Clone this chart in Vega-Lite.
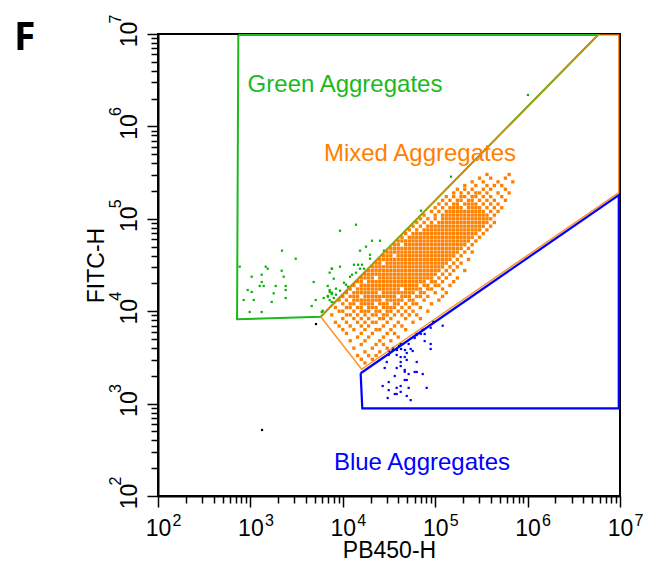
{
"$schema":"https://vega.github.io/schema/vega-lite/v6.json",
"width":462,"height":462,
"autosize":{"type":"none"},
"padding":{"left":158,"top":34,"right":27,"bottom":74},
"background":"white",
"title":{"text":"F","anchor":"start","frame":"group","font":"Open Sans","fontSize":39,"fontWeight":"bold","color":"black","dx":-144,"dy":75,"offset":0,"baseline":"alphabetic"},
"config":{"view":{"stroke":"black","strokeWidth":2},"font":"Liberation Sans",
"axis":{"grid":false,"domainColor":"black","domainWidth":2,"tickColor":"black","tickWidth":1.5,"labelFont":"Liberation Sans","labelFontSize":23,"labelColor":"black","labelFlush":false,"labelOverlap":false,"labelBound":false,"titleFont":"Liberation Sans","titleFontSize":23,"titleFontWeight":"normal","titleColor":"black"}},
"datasets":{
"orange":[
{"x":17380,"y":2754},
{"x":15850,"y":3020},{"x":20890,"y":3020},
{"x":14450,"y":3311},{"x":19050,"y":3311},{"x":22910,"y":3311},
{"x":17380,"y":3631},{"x":25120,"y":3631},
{"x":13180,"y":3981},{"x":20890,"y":3981},{"x":30200,"y":3981},
{"x":15850,"y":4365},{"x":22910,"y":4365},{"x":27540,"y":4365},
{"x":12020,"y":4786},{"x":17380,"y":4786},{"x":25120,"y":4786},{"x":33110,"y":4786},
{"x":14450,"y":5248},{"x":19050,"y":5248},{"x":27540,"y":5248},{"x":39810,"y":5248},
{"x":10960,"y":5754},{"x":15850,"y":5754},{"x":20890,"y":5754},{"x":30200,"y":5754},{"x":36310,"y":5754},
{"x":10000,"y":6310},{"x":13180,"y":6310},{"x":17380,"y":6310},{"x":22910,"y":6310},{"x":25120,"y":6310},{"x":33110,"y":6310},{"x":47860,"y":6310},
{"x":9120,"y":6918},{"x":12020,"y":6918},{"x":15850,"y":6918},{"x":19050,"y":6918},{"x":27540,"y":6918},{"x":36310,"y":6918},{"x":43650,"y":6918},
{"x":8318,"y":7586},{"x":10960,"y":7586},{"x":14450,"y":7586},{"x":17380,"y":7586},{"x":20890,"y":7586},{"x":22910,"y":7586},{"x":30200,"y":7586},{"x":39810,"y":7586},{"x":57540,"y":7586},
{"x":10000,"y":8318},{"x":13180,"y":8318},{"x":15850,"y":8318},{"x":19050,"y":8318},{"x":25120,"y":8318},{"x":27540,"y":8318},{"x":33110,"y":8318},{"x":47860,"y":8318},{"x":69180,"y":8318},
{"x":7586,"y":9120},{"x":10960,"y":9120},{"x":12020,"y":9120},{"x":14450,"y":9120},{"x":17380,"y":9120},{"x":20890,"y":9120},{"x":22910,"y":9120},{"x":27540,"y":9120},{"x":30200,"y":9120},{"x":36310,"y":9120},{"x":43650,"y":9120},{"x":52480,"y":9120},{"x":63100,"y":9120},
{"x":9120,"y":10000},{"x":10000,"y":10000},{"x":13180,"y":10000},{"x":15850,"y":10000},{"x":17380,"y":10000},{"x":19050,"y":10000},{"x":22910,"y":10000},{"x":25120,"y":10000},{"x":30200,"y":10000},{"x":33110,"y":10000},{"x":39810,"y":10000},{"x":47860,"y":10000},{"x":57540,"y":10000},{"x":83180,"y":10000},
{"x":8318,"y":10960},{"x":10960,"y":10960},{"x":12020,"y":10960},{"x":14450,"y":10960},{"x":15850,"y":10960},{"x":19050,"y":10960},{"x":20890,"y":10960},{"x":22910,"y":10960},{"x":27540,"y":10960},{"x":30200,"y":10960},{"x":33110,"y":10960},{"x":36310,"y":10960},{"x":43650,"y":10960},{"x":52480,"y":10960},{"x":69180,"y":10960},
{"x":10000,"y":12020},{"x":12020,"y":12020},{"x":13180,"y":12020},{"x":15850,"y":12020},{"x":17380,"y":12020},{"x":19050,"y":12020},{"x":20890,"y":12020},{"x":25120,"y":12020},{"x":27540,"y":12020},{"x":30200,"y":12020},{"x":36310,"y":12020},{"x":39810,"y":12020},{"x":47860,"y":12020},{"x":57540,"y":12020},{"x":63100,"y":12020},{"x":91200,"y":12020},
{"x":9120,"y":13180},{"x":10960,"y":13180},{"x":13180,"y":13180},{"x":14450,"y":13180},{"x":15850,"y":13180},{"x":17380,"y":13180},{"x":19050,"y":13180},{"x":20890,"y":13180},{"x":22910,"y":13180},{"x":25120,"y":13180},{"x":30200,"y":13180},{"x":33110,"y":13180},{"x":36310,"y":13180},{"x":39810,"y":13180},{"x":43650,"y":13180},{"x":52480,"y":13180},{"x":57540,"y":13180},{"x":75860,"y":13180},{"x":109600,"y":13180},
{"x":10000,"y":14450},{"x":12020,"y":14450},{"x":13180,"y":14450},{"x":14450,"y":14450},{"x":17380,"y":14450},{"x":19050,"y":14450},{"x":20890,"y":14450},{"x":22910,"y":14450},{"x":25120,"y":14450},{"x":27540,"y":14450},{"x":30200,"y":14450},{"x":33110,"y":14450},{"x":36310,"y":14450},{"x":43650,"y":14450},{"x":47860,"y":14450},{"x":52480,"y":14450},{"x":63100,"y":14450},{"x":69180,"y":14450},{"x":83180,"y":14450},{"x":120200,"y":14450},
{"x":10960,"y":15850},{"x":13180,"y":15850},{"x":14450,"y":15850},{"x":15850,"y":15850},{"x":17380,"y":15850},{"x":19050,"y":15850},{"x":20890,"y":15850},{"x":22910,"y":15850},{"x":27540,"y":15850},{"x":30200,"y":15850},{"x":33110,"y":15850},{"x":36310,"y":15850},{"x":39810,"y":15850},{"x":43650,"y":15850},{"x":47860,"y":15850},{"x":52480,"y":15850},{"x":57540,"y":15850},{"x":69180,"y":15850},{"x":75860,"y":15850},{"x":100000,"y":15850},{"x":131800,"y":15850},
{"x":12020,"y":17380},{"x":14450,"y":17380},{"x":15850,"y":17380},{"x":17380,"y":17380},{"x":19050,"y":17380},{"x":20890,"y":17380},{"x":22910,"y":17380},{"x":25120,"y":17380},{"x":27540,"y":17380},{"x":30200,"y":17380},{"x":33110,"y":17380},{"x":36310,"y":17380},{"x":39810,"y":17380},{"x":47860,"y":17380},{"x":52480,"y":17380},{"x":57540,"y":17380},{"x":63100,"y":17380},{"x":69180,"y":17380},{"x":83180,"y":17380},{"x":91200,"y":17380},{"x":120200,"y":17380},
{"x":13180,"y":19050},{"x":15850,"y":19050},{"x":17380,"y":19050},{"x":19050,"y":19050},{"x":20890,"y":19050},{"x":22910,"y":19050},{"x":25120,"y":19050},{"x":27540,"y":19050},{"x":30200,"y":19050},{"x":33110,"y":19050},{"x":36310,"y":19050},{"x":39810,"y":19050},{"x":43650,"y":19050},{"x":47860,"y":19050},{"x":52480,"y":19050},{"x":57540,"y":19050},{"x":63100,"y":19050},{"x":75860,"y":19050},{"x":83180,"y":19050},{"x":100000,"y":19050},{"x":109600,"y":19050},{"x":144500,"y":19050},
{"x":14450,"y":20890},{"x":15850,"y":20890},{"x":19050,"y":20890},{"x":20890,"y":20890},{"x":22910,"y":20890},{"x":25120,"y":20890},{"x":27540,"y":20890},{"x":30200,"y":20890},{"x":33110,"y":20890},{"x":36310,"y":20890},{"x":39810,"y":20890},{"x":43650,"y":20890},{"x":47860,"y":20890},{"x":52480,"y":20890},{"x":57540,"y":20890},{"x":63100,"y":20890},{"x":69180,"y":20890},{"x":75860,"y":20890},{"x":91200,"y":20890},{"x":100000,"y":20890},{"x":120200,"y":20890},{"x":158500,"y":20890},
{"x":15850,"y":22910},{"x":17380,"y":22910},{"x":19050,"y":22910},{"x":20890,"y":22910},{"x":25120,"y":22910},{"x":27540,"y":22910},{"x":30200,"y":22910},{"x":33110,"y":22910},{"x":36310,"y":22910},{"x":39810,"y":22910},{"x":43650,"y":22910},{"x":47860,"y":22910},{"x":52480,"y":22910},{"x":57540,"y":22910},{"x":63100,"y":22910},{"x":69180,"y":22910},{"x":75860,"y":22910},{"x":83180,"y":22910},{"x":91200,"y":22910},{"x":109600,"y":22910},{"x":131800,"y":22910},{"x":173800,"y":22910},
{"x":17380,"y":25120},{"x":19050,"y":25120},{"x":20890,"y":25120},{"x":22910,"y":25120},{"x":25120,"y":25120},{"x":27540,"y":25120},{"x":30200,"y":25120},{"x":33110,"y":25120},{"x":36310,"y":25120},{"x":39810,"y":25120},{"x":43650,"y":25120},{"x":47860,"y":25120},{"x":52480,"y":25120},{"x":57540,"y":25120},{"x":63100,"y":25120},{"x":69180,"y":25120},{"x":75860,"y":25120},{"x":83180,"y":25120},{"x":91200,"y":25120},{"x":100000,"y":25120},{"x":120200,"y":25120},{"x":144500,"y":25120},
{"x":19050,"y":27540},{"x":20890,"y":27540},{"x":22910,"y":27540},{"x":25120,"y":27540},{"x":27540,"y":27540},{"x":30200,"y":27540},{"x":33110,"y":27540},{"x":36310,"y":27540},{"x":39810,"y":27540},{"x":43650,"y":27540},{"x":47860,"y":27540},{"x":52480,"y":27540},{"x":57540,"y":27540},{"x":63100,"y":27540},{"x":69180,"y":27540},{"x":75860,"y":27540},{"x":83180,"y":27540},{"x":91200,"y":27540},{"x":100000,"y":27540},{"x":109600,"y":27540},{"x":131800,"y":27540},{"x":158500,"y":27540},{"x":208900,"y":27540},
{"x":20890,"y":30200},{"x":22910,"y":30200},{"x":25120,"y":30200},{"x":27540,"y":30200},{"x":30200,"y":30200},{"x":33110,"y":30200},{"x":36310,"y":30200},{"x":39810,"y":30200},{"x":43650,"y":30200},{"x":47860,"y":30200},{"x":52480,"y":30200},{"x":57540,"y":30200},{"x":63100,"y":30200},{"x":69180,"y":30200},{"x":75860,"y":30200},{"x":83180,"y":30200},{"x":91200,"y":30200},{"x":100000,"y":30200},{"x":109600,"y":30200},{"x":120200,"y":30200},{"x":144500,"y":30200},{"x":173800,"y":30200},
{"x":22910,"y":33110},{"x":25120,"y":33110},{"x":30200,"y":33110},{"x":33110,"y":33110},{"x":36310,"y":33110},{"x":39810,"y":33110},{"x":43650,"y":33110},{"x":47860,"y":33110},{"x":52480,"y":33110},{"x":57540,"y":33110},{"x":63100,"y":33110},{"x":69180,"y":33110},{"x":75860,"y":33110},{"x":83180,"y":33110},{"x":91200,"y":33110},{"x":100000,"y":33110},{"x":109600,"y":33110},{"x":120200,"y":33110},{"x":131800,"y":33110},{"x":158500,"y":33110},{"x":190500,"y":33110},
{"x":25120,"y":36310},{"x":27540,"y":36310},{"x":30200,"y":36310},{"x":33110,"y":36310},{"x":36310,"y":36310},{"x":39810,"y":36310},{"x":43650,"y":36310},{"x":47860,"y":36310},{"x":52480,"y":36310},{"x":57540,"y":36310},{"x":63100,"y":36310},{"x":69180,"y":36310},{"x":75860,"y":36310},{"x":83180,"y":36310},{"x":91200,"y":36310},{"x":100000,"y":36310},{"x":109600,"y":36310},{"x":120200,"y":36310},{"x":131800,"y":36310},{"x":144500,"y":36310},{"x":173800,"y":36310},{"x":229100,"y":36310},
{"x":27540,"y":39810},{"x":30200,"y":39810},{"x":33110,"y":39810},{"x":39810,"y":39810},{"x":43650,"y":39810},{"x":47860,"y":39810},{"x":52480,"y":39810},{"x":57540,"y":39810},{"x":63100,"y":39810},{"x":69180,"y":39810},{"x":75860,"y":39810},{"x":83180,"y":39810},{"x":91200,"y":39810},{"x":100000,"y":39810},{"x":109600,"y":39810},{"x":120200,"y":39810},{"x":131800,"y":39810},{"x":144500,"y":39810},{"x":158500,"y":39810},{"x":190500,"y":39810},
{"x":30200,"y":43650},{"x":33110,"y":43650},{"x":36310,"y":43650},{"x":39810,"y":43650},{"x":43650,"y":43650},{"x":47860,"y":43650},{"x":52480,"y":43650},{"x":57540,"y":43650},{"x":63100,"y":43650},{"x":69180,"y":43650},{"x":75860,"y":43650},{"x":83180,"y":43650},{"x":91200,"y":43650},{"x":100000,"y":43650},{"x":109600,"y":43650},{"x":120200,"y":43650},{"x":131800,"y":43650},{"x":144500,"y":43650},{"x":158500,"y":43650},{"x":173800,"y":43650},{"x":208900,"y":43650},{"x":251200,"y":43650},
{"x":33110,"y":47860},{"x":36310,"y":47860},{"x":39810,"y":47860},{"x":43650,"y":47860},{"x":47860,"y":47860},{"x":52480,"y":47860},{"x":57540,"y":47860},{"x":63100,"y":47860},{"x":69180,"y":47860},{"x":75860,"y":47860},{"x":83180,"y":47860},{"x":91200,"y":47860},{"x":100000,"y":47860},{"x":109600,"y":47860},{"x":120200,"y":47860},{"x":131800,"y":47860},{"x":144500,"y":47860},{"x":158500,"y":47860},{"x":173800,"y":47860},{"x":190500,"y":47860},{"x":229100,"y":47860},
{"x":36310,"y":52480},{"x":39810,"y":52480},{"x":47860,"y":52480},{"x":52480,"y":52480},{"x":57540,"y":52480},{"x":63100,"y":52480},{"x":69180,"y":52480},{"x":75860,"y":52480},{"x":83180,"y":52480},{"x":91200,"y":52480},{"x":100000,"y":52480},{"x":109600,"y":52480},{"x":120200,"y":52480},{"x":131800,"y":52480},{"x":144500,"y":52480},{"x":158500,"y":52480},{"x":173800,"y":52480},{"x":190500,"y":52480},{"x":208900,"y":52480},{"x":251200,"y":52480},
{"x":39810,"y":57540},{"x":43650,"y":57540},{"x":47860,"y":57540},{"x":52480,"y":57540},{"x":57540,"y":57540},{"x":63100,"y":57540},{"x":69180,"y":57540},{"x":75860,"y":57540},{"x":83180,"y":57540},{"x":91200,"y":57540},{"x":100000,"y":57540},{"x":109600,"y":57540},{"x":120200,"y":57540},{"x":131800,"y":57540},{"x":144500,"y":57540},{"x":158500,"y":57540},{"x":173800,"y":57540},{"x":190500,"y":57540},{"x":208900,"y":57540},{"x":229100,"y":57540},{"x":275400,"y":57540},
{"x":43650,"y":63100},{"x":52480,"y":63100},{"x":57540,"y":63100},{"x":63100,"y":63100},{"x":69180,"y":63100},{"x":75860,"y":63100},{"x":83180,"y":63100},{"x":91200,"y":63100},{"x":100000,"y":63100},{"x":109600,"y":63100},{"x":120200,"y":63100},{"x":131800,"y":63100},{"x":144500,"y":63100},{"x":158500,"y":63100},{"x":173800,"y":63100},{"x":190500,"y":63100},{"x":208900,"y":63100},{"x":229100,"y":63100},{"x":251200,"y":63100},{"x":302000,"y":63100},
{"x":47860,"y":69180},{"x":57540,"y":69180},{"x":63100,"y":69180},{"x":69180,"y":69180},{"x":75860,"y":69180},{"x":83180,"y":69180},{"x":91200,"y":69180},{"x":100000,"y":69180},{"x":109600,"y":69180},{"x":120200,"y":69180},{"x":131800,"y":69180},{"x":144500,"y":69180},{"x":158500,"y":69180},{"x":173800,"y":69180},{"x":190500,"y":69180},{"x":208900,"y":69180},{"x":229100,"y":69180},{"x":251200,"y":69180},{"x":275400,"y":69180},{"x":331100,"y":69180},
{"x":52480,"y":75860},{"x":63100,"y":75860},{"x":75860,"y":75860},{"x":83180,"y":75860},{"x":91200,"y":75860},{"x":100000,"y":75860},{"x":109600,"y":75860},{"x":120200,"y":75860},{"x":131800,"y":75860},{"x":144500,"y":75860},{"x":158500,"y":75860},{"x":173800,"y":75860},{"x":190500,"y":75860},{"x":208900,"y":75860},{"x":229100,"y":75860},{"x":251200,"y":75860},{"x":275400,"y":75860},{"x":302000,"y":75860},{"x":363100,"y":75860},
{"x":57540,"y":83180},{"x":69180,"y":83180},{"x":83180,"y":83180},{"x":91200,"y":83180},{"x":100000,"y":83180},{"x":109600,"y":83180},{"x":120200,"y":83180},{"x":131800,"y":83180},{"x":144500,"y":83180},{"x":158500,"y":83180},{"x":173800,"y":83180},{"x":190500,"y":83180},{"x":208900,"y":83180},{"x":229100,"y":83180},{"x":251200,"y":83180},{"x":275400,"y":83180},{"x":302000,"y":83180},{"x":331100,"y":83180},{"x":398100,"y":83180},
{"x":63100,"y":91200},{"x":75860,"y":91200},{"x":91200,"y":91200},{"x":109600,"y":91200},{"x":120200,"y":91200},{"x":131800,"y":91200},{"x":144500,"y":91200},{"x":158500,"y":91200},{"x":173800,"y":91200},{"x":190500,"y":91200},{"x":208900,"y":91200},{"x":229100,"y":91200},{"x":251200,"y":91200},{"x":275400,"y":91200},{"x":302000,"y":91200},{"x":331100,"y":91200},{"x":363100,"y":91200},{"x":436500,"y":91200},
{"x":69180,"y":100000},{"x":83180,"y":100000},{"x":100000,"y":100000},{"x":120200,"y":100000},{"x":131800,"y":100000},{"x":144500,"y":100000},{"x":158500,"y":100000},{"x":173800,"y":100000},{"x":190500,"y":100000},{"x":208900,"y":100000},{"x":229100,"y":100000},{"x":251200,"y":100000},{"x":275400,"y":100000},{"x":302000,"y":100000},{"x":331100,"y":100000},{"x":363100,"y":100000},{"x":398100,"y":100000},
{"x":75860,"y":109600},{"x":100000,"y":109600},{"x":120200,"y":109600},{"x":131800,"y":109600},{"x":144500,"y":109600},{"x":158500,"y":109600},{"x":173800,"y":109600},{"x":190500,"y":109600},{"x":208900,"y":109600},{"x":229100,"y":109600},{"x":251200,"y":109600},{"x":275400,"y":109600},{"x":302000,"y":109600},{"x":331100,"y":109600},{"x":363100,"y":109600},{"x":436500,"y":109600},
{"x":91200,"y":120200},{"x":109600,"y":120200},{"x":131800,"y":120200},{"x":144500,"y":120200},{"x":158500,"y":120200},{"x":173800,"y":120200},{"x":190500,"y":120200},{"x":208900,"y":120200},{"x":229100,"y":120200},{"x":251200,"y":120200},{"x":275400,"y":120200},{"x":302000,"y":120200},{"x":331100,"y":120200},{"x":398100,"y":120200},{"x":478600,"y":120200},
{"x":100000,"y":131800},{"x":120200,"y":131800},{"x":144500,"y":131800},{"x":158500,"y":131800},{"x":173800,"y":131800},{"x":190500,"y":131800},{"x":229100,"y":131800},{"x":251200,"y":131800},{"x":275400,"y":131800},{"x":302000,"y":131800},{"x":363100,"y":131800},{"x":436500,"y":131800},{"x":524800,"y":131800},
{"x":109600,"y":144500},{"x":131800,"y":144500},{"x":158500,"y":144500},{"x":173800,"y":144500},{"x":208900,"y":144500},{"x":229100,"y":144500},{"x":251200,"y":144500},{"x":275400,"y":144500},{"x":331100,"y":144500},{"x":398100,"y":144500},{"x":478600,"y":144500},
{"x":120200,"y":158500},{"x":144500,"y":158500},{"x":173800,"y":158500},{"x":190500,"y":158500},{"x":229100,"y":158500},{"x":251200,"y":158500},{"x":302000,"y":158500},{"x":363100,"y":158500},{"x":436500,"y":158500},{"x":575400,"y":158500},
{"x":131800,"y":173800},{"x":158500,"y":173800},{"x":190500,"y":173800},{"x":208900,"y":173800},{"x":251200,"y":173800},{"x":275400,"y":173800},{"x":331100,"y":173800},{"x":398100,"y":173800},{"x":524800,"y":173800},
{"x":158500,"y":190500},{"x":190500,"y":190500},{"x":229100,"y":190500},{"x":275400,"y":190500},{"x":302000,"y":190500},{"x":363100,"y":190500},{"x":478600,"y":190500},{"x":631000,"y":190500},
{"x":173800,"y":208900},{"x":208900,"y":208900},{"x":251200,"y":208900},{"x":331100,"y":208900},{"x":398100,"y":208900},{"x":575400,"y":208900},
{"x":208900,"y":229100},{"x":275400,"y":229100},{"x":363100,"y":229100},{"x":436500,"y":229100},{"x":524800,"y":229100},
{"x":251200,"y":251200},{"x":331100,"y":251200},{"x":478600,"y":251200},{"x":691800,"y":251200},
{"x":302000,"y":275400},{"x":398100,"y":275400},{"x":575400,"y":275400},
{"x":363100,"y":302000},{"x":631000,"y":302000}
],
"green":[
{"x":2198,"y":45200},{"x":3093,"y":37000},{"x":766,"y":30340},{"x":1465,"y":30340},{"x":1538,"y":28840},{"x":2182,"y":27420},{"x":1033,"y":23600},{"x":1325,"y":24830},{"x":2293,"y":23600},{"x":1325,"y":20700},{"x":1261,"y":18750},{"x":1393,"y":18750},{"x":1879,"y":18750},{"x":2410,"y":18750},{"x":4842,"y":20700},{"x":935,"y":16950},{"x":1033,"y":16140},{"x":2410,"y":16950},{"x":1787,"y":15630},{"x":846,"y":13210},{"x":1086,"y":13210},{"x":1700,"y":12590},{"x":2410,"y":13900},{"x":5090,"y":13210},{"x":4607,"y":11380},{"x":982,"y":9800},{"x":1325,"y":9800},{"x":5913,"y":9800},{"x":6215,"y":13900},{"x":6870,"y":18750},{"x":7213,"y":16950},{"x":7213,"y":16140},{"x":6870,"y":14620},{"x":7586,"y":15350},{"x":7980,"y":13900},{"x":7213,"y":13210},{"x":7586,"y":12590},{"x":7586,"y":28840},{"x":7213,"y":26120},{"x":7980,"y":22490},{"x":13900,"y":86300},{"x":9330,"y":74300},{"x":20700,"y":57900},{"x":25290,"y":57900},{"x":17830,"y":49900},{"x":15350,"y":45200},{"x":27930,"y":45200},{"x":19700,"y":40800},{"x":19700,"y":37000},{"x":7640,"y":28840},{"x":9330,"y":30340},{"x":13210,"y":31840},{"x":14620,"y":31840},{"x":16140,"y":31840},{"x":15350,"y":28840},{"x":16960,"y":28840},{"x":13900,"y":26120},{"x":12590,"y":24830},{"x":11970,"y":23600},{"x":10300,"y":20330},{"x":10830,"y":19360},{"x":11380,"y":18410},{"x":8435,"y":17530},{"x":9330,"y":16670},{"x":7640,"y":15850},{"x":8435,"y":15100},{"x":6918,"y":14360},{"x":8035,"y":12360},{"x":6057,"y":10120},{"x":70200,"y":122400},{"x":148300,"y":285800},{"x":1009000,"y":2188000}
],
"blue":[
{"x":89300,"y":6620},{"x":120500,"y":6970},{"x":73300,"y":6270},{"x":76900,"y":5670},{"x":69700,"y":5670},{"x":63100,"y":5520},{"x":60000,"y":5130},{"x":76900,"y":4750},{"x":89300,"y":4420},{"x":89300,"y":3900},{"x":51600,"y":4420},{"x":54300,"y":3900},{"x":57100,"y":3710},{"x":34900,"y":4000},{"x":38600,"y":3800},{"x":42700,"y":3900},{"x":47100,"y":3800},{"x":31600,"y":3710},{"x":40600,"y":4200},{"x":49200,"y":3530},{"x":31400,"y":3360},{"x":38300,"y":3360},{"x":42300,"y":3190},{"x":49200,"y":2970},{"x":63100,"y":2820},{"x":29900,"y":2820},{"x":42300,"y":2820},{"x":46800,"y":2310},{"x":46800,"y":2210},{"x":60000,"y":2200},{"x":63100,"y":2200},{"x":28400,"y":2430},{"x":38300,"y":2430},{"x":42300,"y":2550},{"x":73300,"y":2090},{"x":51600,"y":2090},{"x":36500,"y":1990},{"x":49200,"y":1800},{"x":46800,"y":1800},{"x":31400,"y":1710},{"x":27000,"y":1550},{"x":80900,"y":1480},{"x":31400,"y":1400},{"x":42300,"y":1550},{"x":42300,"y":1340},{"x":38300,"y":1480},{"x":36500,"y":1270},{"x":38300,"y":1270},{"x":49200,"y":1210},{"x":54300,"y":1090},{"x":30600,"y":1150},{"x":51600,"y":1480},{"x":46800,"y":3190}
],
"black":[
{"x":1337,"y":518},{"x":5130,"y":7260},{"x":95300,"y":7690},{"x":74300,"y":6270},{"x":63100,"y":5670},{"x":42300,"y":4420},{"x":34700,"y":3800}
],
"gateGreen":[{"x":740,"y":9750000,"o":1},{"x":717,"y":8170,"o":2},{"x":5770,"y":8710,"o":3},{"x":5780000,"y":9750000,"o":4},{"x":740,"y":9750000,"o":5}],
"gateMixed":[{"x":5770,"y":8710,"o":1},{"x":5780000,"y":9750000,"o":2},{"x":9700000,"y":9750000,"o":3},{"x":9700000,"y":192000,"o":4},{"x":16000,"y":2350,"o":5},{"x":5770,"y":8710,"o":6}],
"gateBlue":[{"x":15600,"y":2130,"o":1},{"x":9700000,"y":181000,"o":2},{"x":9700000,"y":889,"o":3},{"x":16250,"y":889,"o":4},{"x":15600,"y":2130,"o":5}],
"labels":[{"x":10570,"y":2355000,"t":"Green Aggregates","g":"Green"},{"x":68470,"y":422200,"t":"Mixed Aggregates","g":"Mixed"},{"x":71940,"y":191,"t":"Blue Aggregates","g":"Blue"}]
},
"layer":[
{
"encoding":{
"x":{"field":"x","type":"quantitative","scale":{"type":"log","domain":[100,10000000],"nice":false},"axis":{"orient":"bottom","title":"PB450-H","values":[100,200,300,400,500,600,700,800,900,1000,2000,3000,4000,5000,6000,7000,8000,9000,10000,20000,30000,40000,50000,60000,70000,80000,90000,100000,200000,300000,400000,500000,600000,700000,800000,900000,1000000,2000000,3000000,4000000,5000000,6000000,7000000,8000000,9000000,10000000],"labelExpr":"indexof([100,1000,10000,100000,1000000,10000000], datum.value) >= 0 ? '10' : ''","tickSize":{"condition":{"test":"indexof([100,1000,10000,100000,1000000,10000000], datum.value) >= 0","value":11},"value":7},"labelPadding":10,"labelBaseline":"top","labelAlign":"center","titleBaseline":"alphabetic","titleX":231,"titleY":61,"titleAlign":"center"}},
"y":{"field":"y","type":"quantitative","scale":{"type":"log","domain":[100,10000000],"nice":false},"axis":{"orient":"left","title":"FITC-H","values":[100,200,300,400,500,600,700,800,900,1000,2000,3000,4000,5000,6000,7000,8000,9000,10000,20000,30000,40000,50000,60000,70000,80000,90000,100000,200000,300000,400000,500000,600000,700000,800000,900000,1000000,2000000,3000000,4000000,5000000,6000000,7000000,8000000,9000000,10000000],"labelExpr":"indexof([100,1000,10000,100000,1000000,10000000], datum.value) >= 0 ? '10' : ''","tickSize":{"condition":{"test":"indexof([100,1000,10000,100000,1000000,10000000], datum.value) >= 0","value":11},"value":7},"labelAngle":-90,"labelAlign":"center","labelBaseline":"alphabetic","labelPadding":10.5,"titleAngle":-90,"titleBaseline":"alphabetic","titleAlign":"center","titleX":-55,"titleY":231}}
},
"layer":[
{"data":{"name":"orange"},"mark":{"type":"square","size":11,"color":"#ff8000","opacity":1}},
{"data":{"name":"green"},"mark":{"type":"square","size":5,"color":"#00b400","opacity":1}},
{"data":{"name":"blue"},"mark":{"type":"square","size":5,"color":"#0000ff","opacity":1}},
{"data":{"name":"black"},"mark":{"type":"square","size":5,"color":"#000000","opacity":1}},
{"data":{"name":"gateGreen"},"mark":{"type":"line","color":"#1cb91c","strokeWidth":2},"encoding":{"order":{"field":"o","type":"quantitative"}}},
{"data":{"name":"gateMixed"},"mark":{"type":"line","color":"#ff8000","strokeWidth":1.5,"opacity":0.85},"encoding":{"order":{"field":"o","type":"quantitative"}}},
{"data":{"name":"gateBlue"},"mark":{"type":"line","color":"#0000ff","strokeWidth":2.2},"encoding":{"order":{"field":"o","type":"quantitative"}}},
{"data":{"name":"labels"},"mark":{"type":"text","font":"Liberation Sans","fontSize":24,"align":"center","baseline":"alphabetic"},"encoding":{"text":{"field":"t","type":"nominal"},"color":{"field":"g","type":"nominal","scale":{"domain":["Green","Mixed","Blue"],"range":["#1cb91c","#ff8000","#0000ff"]},"legend":null}}}
]
},
{
"data":{"name":"black"},
"mark":{"type":"square","size":1,"opacity":0},
"encoding":{
"x":{"field":"x","type":"quantitative","scale":{"type":"log","domain":[100,10000000],"nice":false},"axis":{"orient":"bottom","title":null,"values":[100,1000,10000,100000,1000000,10000000],"labelExpr":"'' + round(log(datum.value)/LN10)","ticks":false,"tickSize":0,"domain":false,"labelFontSize":16,"labelAlign":"left","labelBaseline":"top","labelPadding":16,"labelOffset":14}},
"y":{"field":"y","type":"quantitative","scale":{"type":"log","domain":[100,10000000],"nice":false},"axis":{"orient":"left","title":null,"values":[100,1000,10000,100000,1000000,10000000],"labelExpr":"'' + round(log(datum.value)/LN10)","ticks":false,"tickSize":0,"domain":false,"labelFontSize":16,"labelAngle":-90,"labelAlign":"left","labelBaseline":"alphabetic","labelPadding":38,"labelOffset":-11}}
}
}
],
"resolve":{"axis":{"x":"independent","y":"independent"}}
}
